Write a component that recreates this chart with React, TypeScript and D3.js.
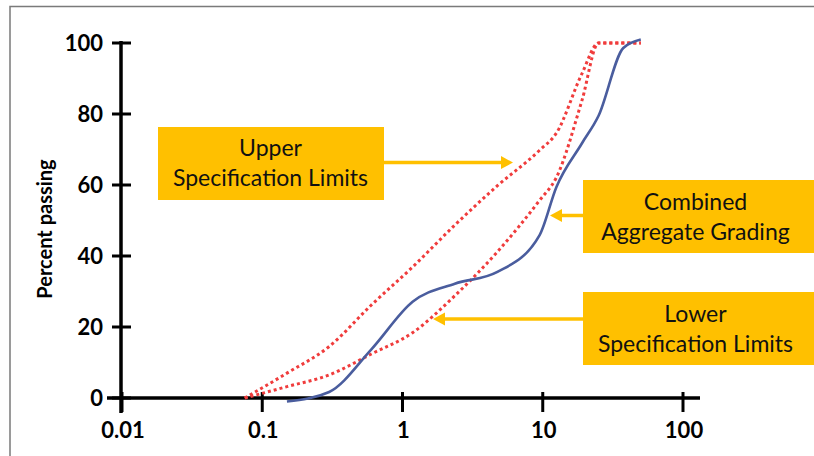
import React from 'react';
import * as d3 from 'd3';

// sieve sizes (mm) and percent passing
const specSieves = [0.075, 0.15, 0.3, 0.6, 1.18, 2.36, 4.75, 9.5, 12.5, 19, 25, 50];
const upperLimit = [0, 7, 14.5, 26.2, 36.9, 48.7, 59.8, 69.8, 74.6, 91.3, 100, 100];
const lowerLimit = [0, 3.2, 6.5, 12.4, 18.4, 28.8, 41.2, 55.7, 62.1, 83.7, 100, 100];

const blendSieves = [0.15, 0.3, 0.6, 1.18, 2.36, 4.75, 9.5, 12.5, 19, 25, 37.5, 50];
const blendPassing = [-1, 1.7, 13.7, 27.1, 32.2, 35.5, 45.9, 59.4, 71.7, 79.5, 98.6, 101];

const xTicks = [0.01, 0.1, 1, 10, 100];
const xTickLabels = ['0.01', '0.1', '1', '10', '100'];
const yTicks = [0, 20, 40, 60, 80, 100];

const W = 814;
const H = 456;

const App = () => {
  const x = d3.scaleLog().domain([0.01, 100]).range([122, 683]);
  const y = d3.scaleLinear().domain([0, 100]).range([398, 43]);

  const line = d3
    .line<[number, number]>()
    .x(d => x(d[0]))
    .y(d => y(d[1]))
    .curve(d3.curveMonotoneX);

  const upperPath = line(specSieves.map((s, i) => [s, upperLimit[i]]));
  const lowerPath = line(specSieves.map((s, i) => [s, lowerLimit[i]]));
  const blendPath = line(blendSieves.map((s, i) => [s, blendPassing[i]]));

  const gold = '#FFC000';
  const tickFont = { fontFamily: 'Lato, sans-serif', fontWeight: 700, fontSize: 22 };
  const noteFont = { fontFamily: 'Lato, sans-serif', fontSize: 23, fill: '#111' };

  // annotation boxes
  const notes = [
    { x: 158, y: 127, w: 226, h: 73, lines: ['Upper', 'Specification Limits'], b: [156, 186] },
    { x: 583, y: 180, w: 232, h: 73, lines: ['Combined', 'Aggregate Grading'], b: [210, 240] },
    { x: 583, y: 292, w: 232, h: 73, lines: ['Lower', 'Specification Limits'], b: [322, 352] },
  ];

  return (
    <svg width={W} height={H} style={{ position: 'absolute', left: 0, top: 0, background: '#fff' }}>
      <rect x={10} y={6.5} width={W} height={H} fill="#fff" stroke="#7a7a7a" strokeWidth={1.5} />

      {/* y axis label */}
      <text
        transform="translate(52,229) rotate(-90)"
        textAnchor="middle"
        style={{ fontFamily: 'Lato, sans-serif', fontWeight: 700, fontSize: 20 }}
      >
        Percent passing
      </text>

      {/* axes */}
      <line x1={121} x2={121} y1={41} y2={413} stroke="#000" strokeWidth={3.5} />
      <line x1={107} x2={700} y1={398} y2={398} stroke="#000" strokeWidth={3.5} />
      {yTicks.map(t => (
        <g key={'y' + t}>
          <line x1={112} x2={131} y1={y(t)} y2={y(t)} stroke="#000" strokeWidth={3} />
          <text x={103} y={y(t) + 8} textAnchor="end" style={tickFont}>
            {t}
          </text>
        </g>
      ))}
      {xTicks.map((t, i) => (
        <g key={'x' + t}>
          <line x1={x(t)} x2={x(t)} y1={392} y2={412} stroke="#000" strokeWidth={3} />
          <text x={x(t) + 1} y={438} textAnchor="middle" style={tickFont}>
            {xTickLabels[i]}
          </text>
        </g>
      ))}

      {/* curves */}
      <path d={upperPath || ''} fill="none" stroke="#f03c3c" strokeWidth={3} strokeDasharray="3 3" />
      <path d={lowerPath || ''} fill="none" stroke="#f03c3c" strokeWidth={3} strokeDasharray="3 3" />
      <path d={blendPath || ''} fill="none" stroke="#4a5d9e" strokeWidth={2.6} strokeLinejoin="round" />

      {/* callouts */}
      {notes.map((n, i) => (
        <g key={'n' + i}>
          <rect x={n.x} y={n.y} width={n.w} height={n.h} fill={gold} />
          {n.lines.map((l, j) => (
            <text key={j} x={n.x + 112.5} y={n.b[j]} textAnchor="middle" style={noteFont}>
              {l}
            </text>
          ))}
        </g>
      ))}
      <line x1={384} x2={503} y1={162.5} y2={162.5} stroke={gold} strokeWidth={3.5} />
      <path d="M513,162.5 L501,156 L501,169 Z" fill={gold} />
      <line x1={583} x2={560} y1={215.5} y2={215.5} stroke={gold} strokeWidth={3.5} />
      <path d="M550,215.5 L562,209 L562,222 Z" fill={gold} />
      <line x1={583} x2={443} y1={319} y2={319} stroke={gold} strokeWidth={3.5} />
      <path d="M433,319 L445,312.5 L445,325.5 Z" fill={gold} />
    </svg>
  );
};

export default App;
